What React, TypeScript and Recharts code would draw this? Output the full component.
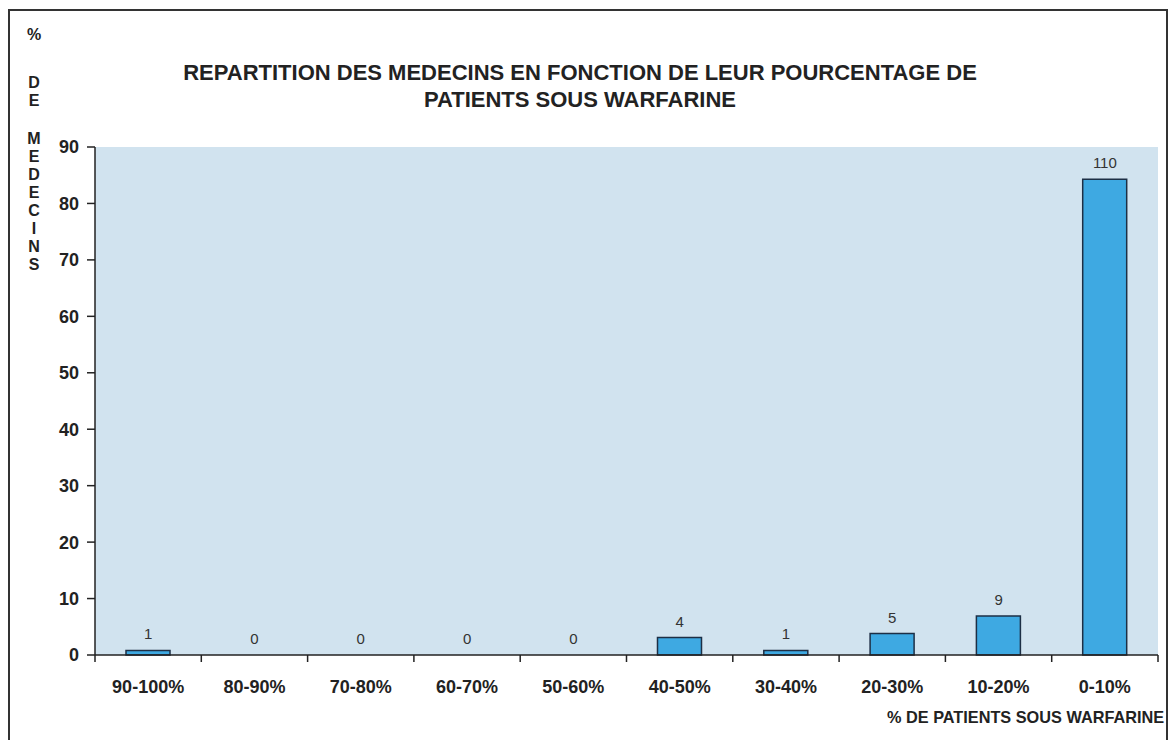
import React from 'react';
import { ComposedChart, Bar, Line, XAxis, YAxis, CartesianGrid, LabelList } from 'recharts';

const categories = ['90-100%', '80-90%', '70-80%', '60-70%', '50-60%', '40-50%', '30-40%', '20-30%', '10-20%', '0-10%'];
// bar heights = % of physicians, labels = number of physicians
const percentages = [0.8, 0, 0, 0, 0, 3.1, 0.8, 3.8, 6.9, 84.3];
const counts = [1, 0, 0, 0, 0, 4, 1, 5, 9, 110];
const yTicks = [0, 10, 20, 30, 40, 50, 60, 70, 80, 90];
const yLabelBlocks = [
  { letters: ['%'], top: 26 },
  { letters: ['D', 'E'], top: 74 },
  { letters: ['M', 'E', 'D', 'E', 'C', 'I', 'N', 'S'], top: 130 },
];

const W = 1171;
const H = 740;
const PLOT_LEFT = 95;
const PLOT_RIGHT = 1158;
const PLOT_TOP = 147;
const PLOT_BOTTOM = 655;
const BAND = (PLOT_RIGHT - PLOT_LEFT) / categories.length;
const FONT = '"Liberation Sans", Arial, sans-serif';
const INK = '#222';

const data = categories.map((c, i) => ({ name: c, pct: percentages[i], count: counts[i] }));

const XTick = (props: any) => {
  const { x, payload, index } = props;
  const left = x - BAND / 2;
  return (
    <g>
      <line x1={left} x2={left} y1={PLOT_BOTTOM} y2={PLOT_BOTTOM + 7} stroke={INK} strokeWidth={1.5} />
      {index === categories.length - 1 && (
        <line x1={x + BAND / 2} x2={x + BAND / 2} y1={PLOT_BOTTOM} y2={PLOT_BOTTOM + 7} stroke={INK} strokeWidth={1.5} />
      )}
      <text x={x} y={PLOT_BOTTOM + 38} textAnchor="middle" fontFamily={FONT} fontWeight="bold" fontSize={18} fill={INK}>
        {payload.value}
      </text>
    </g>
  );
};

const App: React.FC = () => {
  return (
    <div style={{ position: 'absolute', left: 0, top: 0, width: W, height: H, background: '#fff', fontFamily: FONT, overflow: 'hidden' }}>
      <div style={{ position: 'absolute', left: 0, top: 0 }}>
        <ComposedChart
          width={W}
          height={H}
          data={data}
          margin={{ top: PLOT_TOP, left: PLOT_LEFT - 60, right: W - PLOT_RIGHT, bottom: H - PLOT_BOTTOM - 30 }}
        >
          <CartesianGrid horizontal={false} vertical={false} fill="#d1e3ef" />
          <XAxis
            dataKey="name"
            height={30}
            tickLine={false}
            interval={0}
            tick={<XTick />}
            axisLine={{ stroke: INK, strokeWidth: 1.5 }}
          />
          <YAxis
            width={60}
            domain={[0, 90]}
            ticks={yTicks}
            interval={0}
            tickSize={8}
            tickMargin={8}
            axisLine={{ stroke: INK, strokeWidth: 1.5 }}
            tickLine={{ stroke: INK, strokeWidth: 1.5 }}
            tick={{ fontFamily: FONT, fontWeight: 'bold', fontSize: 18, fill: INK }}
          />
          <Bar dataKey="pct" fill="#3ea9e2" stroke="#1d2f45" strokeWidth={1.5} barSize={44} isAnimationActive={false} />
          <Line dataKey="pct" stroke="none" dot={false} activeDot={false} legendType="none" isAnimationActive={false}>
            <LabelList dataKey="count" position="top" offset={11} fontFamily={FONT} fontSize={15} fill="#333" />
          </Line>
        </ComposedChart>
      </div>

      <div style={{ position: 'absolute', left: 8, top: 9, width: 1160, height: 760, border: '2px solid #333', boxSizing: 'border-box' }} />

      <div style={{ position: 'absolute', left: 110, width: 940, top: 59, textAlign: 'center', fontWeight: 'bold', fontSize: 22, lineHeight: '27px', color: INK }}>
        REPARTITION DES MEDECINS EN FONCTION DE LEUR POURCENTAGE DE
        <br />
        PATIENTS SOUS WARFARINE
      </div>

      {yLabelBlocks.map((b, bi) => (
        <div key={bi} style={{ position: 'absolute', left: 24, width: 20, top: b.top, textAlign: 'center', fontWeight: 'bold', fontSize: 16, lineHeight: '18px', color: INK }}>
          {b.letters.map((l, i) => (
            <div key={i}>{l}</div>
          ))}
        </div>
      ))}

      <div style={{ position: 'absolute', left: 887, top: 708, fontWeight: 'bold', fontSize: 16.3, color: INK, whiteSpace: 'nowrap' }}>
        % DE PATIENTS SOUS WARFARINE
      </div>
    </div>
  );
};

export default App;
